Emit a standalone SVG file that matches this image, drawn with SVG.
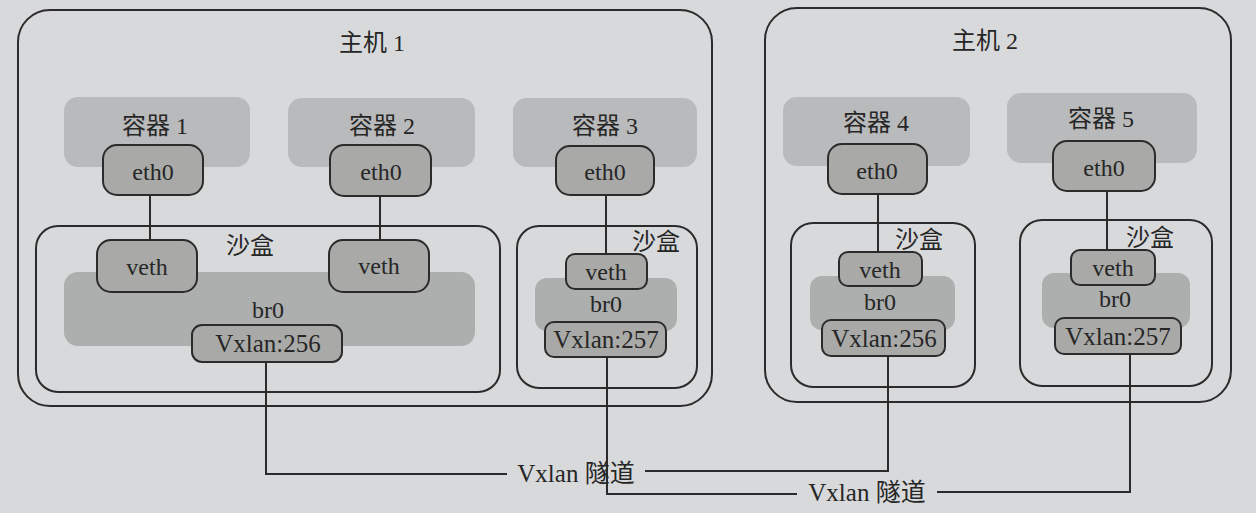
<svg xmlns="http://www.w3.org/2000/svg" width="1256" height="513" viewBox="0 0 1256 513">
<style>
.bg{fill:#d8d9db}
.host{fill:none;stroke:#2b2b2b;stroke-width:2}
.sb{fill:none;stroke:#2b2b2b;stroke-width:2}
.ctr{fill:#b9babb}
.br{fill:#adaeae}
.port{fill:#a9aaa8;stroke:#2b2b2b;stroke-width:2}
.ln{fill:none;stroke:#2b2b2b;stroke-width:2}
text{font-family:"Liberation Serif","Noto Sans CJK SC",serif;font-size:24px;fill:#262626;text-anchor:middle}
.lbl{font-size:25px}
</style>
<rect class="bg" x="0" y="0" width="1256" height="513"/>
<g id="host1">
<rect class="host" x="18" y="10" width="694" height="396" rx="32"/>
<text x="372" y="51">主机 1</text>
</g>
<g id="host2">
<rect class="host" x="765" y="8" width="466" height="394" rx="32"/>
<text x="985" y="49">主机 2</text>
</g>
<g id="sandbox1">
<rect class="sb" x="36" y="226" width="464" height="166" rx="22"/>
<text x="250" y="254">沙盒</text>
<rect class="br" x="64" y="272" width="411" height="74" rx="14"/>
<text x="268" y="318">br0</text>
</g>
<g id="sandbox3">
<rect class="sb" x="517" y="226" width="180" height="162" rx="22"/>
<text x="656" y="250">沙盒</text>
<rect class="br" x="535" y="278" width="142" height="53" rx="12"/>
<text x="606" y="312">br0</text>
</g>
<g id="sandbox4">
<rect class="sb" x="791" y="223" width="184" height="164" rx="22"/>
<text x="919" y="248">沙盒</text>
<rect class="br" x="810" y="276" width="145" height="54" rx="12"/>
<text x="880" y="310">br0</text>
</g>
<g id="sandbox5">
<rect class="sb" x="1020" y="220" width="192" height="166" rx="22"/>
<text x="1150" y="246">沙盒</text>
<rect class="br" x="1042" y="273" width="148" height="55" rx="12"/>
<text x="1115" y="307">br0</text>
</g>
<g id="connectors">
<line class="ln" x1="150" y1="195" x2="150" y2="240"/>
<line class="ln" x1="380" y1="196" x2="380" y2="240"/>
<line class="ln" x1="606" y1="195" x2="606" y2="254"/>
<line class="ln" x1="878" y1="194" x2="878" y2="252"/>
<line class="ln" x1="1107" y1="191" x2="1107" y2="250"/>
<path class="ln" d="M266,362 V474 H507"/>
<path class="ln" d="M645,471 H888 V356"/>
<path class="ln" d="M607,357 V494 H797"/>
<path class="ln" d="M937,492 H1130 V354"/>
</g>
<g id="container1">
<rect class="ctr" x="64" y="97" width="186" height="70" rx="14"/>
<text x="155" y="134">容器 1</text>
<rect class="port" x="103" y="145" width="100" height="50" rx="14"/>
<text x="153" y="180">eth0</text>
</g>
<g id="container2">
<rect class="ctr" x="288" y="98" width="187" height="69" rx="14"/>
<text x="382" y="134">容器 2</text>
<rect class="port" x="330" y="145" width="101" height="51" rx="14"/>
<text x="381" y="180">eth0</text>
</g>
<g id="container3">
<rect class="ctr" x="513" y="98" width="184" height="69" rx="14"/>
<text x="605" y="134">容器 3</text>
<rect class="port" x="556" y="146" width="98" height="49" rx="14"/>
<text x="605" y="180">eth0</text>
</g>
<g id="container4">
<rect class="ctr" x="783" y="97" width="187" height="69" rx="14"/>
<text x="876" y="131">容器 4</text>
<rect class="port" x="828" y="144" width="99" height="50" rx="14"/>
<text x="877" y="179">eth0</text>
</g>
<g id="container5">
<rect class="ctr" x="1007" y="93" width="190" height="70" rx="14"/>
<text x="1101" y="127">容器 5</text>
<rect class="port" x="1053" y="141" width="102" height="50" rx="14"/>
<text x="1104" y="176">eth0</text>
</g>
<g id="veth1"><rect class="port" x="97" y="240" width="100" height="52" rx="14"/><text x="147" y="275">veth</text></g>
<g id="veth2"><rect class="port" x="329" y="240" width="100" height="52" rx="14"/><text x="379" y="274">veth</text></g>
<g id="veth3"><rect class="port" x="566" y="254" width="81" height="35" rx="9"/><text x="606" y="280">veth</text></g>
<g id="veth4"><rect class="port" x="839" y="252" width="83" height="34" rx="9"/><text x="880" y="278">veth</text></g>
<g id="veth5"><rect class="port" x="1071" y="250" width="84" height="35" rx="9"/><text x="1113" y="276">veth</text></g>
<g id="vxlan256a"><rect class="port" x="192" y="325" width="150" height="37" rx="10"/><text class="lbl" x="268" y="352">Vxlan:256</text></g>
<g id="vxlan257a"><rect class="port" x="545" y="322" width="121" height="35" rx="9"/><text class="lbl" x="606" y="348">Vxlan:257</text></g>
<g id="vxlan256b"><rect class="port" x="822" y="320" width="123" height="36" rx="9"/><text class="lbl" x="884" y="347">Vxlan:256</text></g>
<g id="vxlan257b"><rect class="port" x="1055" y="318" width="126" height="36" rx="9"/><text class="lbl" x="1118" y="345">Vxlan:257</text></g>
<g id="tunnel1"><text class="lbl" x="576" y="482">Vxlan 隧道</text></g>
<g id="tunnel2"><text class="lbl" x="867" y="501">Vxlan 隧道</text></g>
</svg>
